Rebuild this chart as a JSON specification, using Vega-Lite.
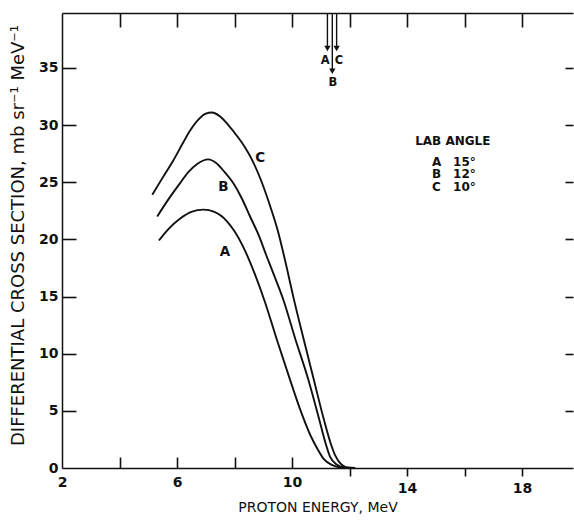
{
  "$schema": "https://vega.github.io/schema/vega-lite/v6.json",
  "autosize": "none",
  "width": 511,
  "height": 455,
  "padding": {"left": 62, "top": 13, "right": 1, "bottom": 52},
  "background": "white",
  "config": {
    "view": {"stroke": null},
    "axis": {
      "grid": false,
      "domainColor": "#111",
      "tickColor": "#111",
      "labelColor": "#111",
      "titleColor": "#111",
      "domainWidth": 1.5,
      "tickWidth": 1.6,
      "labelFont": "DejaVu Sans",
      "titleFont": "DejaVu Sans"
    }
  },
  "datasets": {
    "curves": [
      {"curve": "A", "E": 5.37, "V": 19.9}, {"curve": "A", "E": 5.7, "V": 20.9}, {"curve": "A", "E": 6.1, "V": 21.8}, {"curve": "A", "E": 6.5, "V": 22.4}, {"curve": "A", "E": 6.92, "V": 22.6}, {"curve": "A", "E": 7.3, "V": 22.4}, {"curve": "A", "E": 7.73, "V": 21.6}, {"curve": "A", "E": 8.0, "V": 20.7}, {"curve": "A", "E": 8.31, "V": 19.3}, {"curve": "A", "E": 8.7, "V": 17.0}, {"curve": "A", "E": 9.06, "V": 14.5}, {"curve": "A", "E": 9.45, "V": 11.4}, {"curve": "A", "E": 9.88, "V": 8.1}, {"curve": "A", "E": 10.3, "V": 5.0}, {"curve": "A", "E": 10.65, "V": 2.8}, {"curve": "A", "E": 10.9, "V": 1.6}, {"curve": "A", "E": 11.1, "V": 0.8}, {"curve": "A", "E": 11.4, "V": 0.25}, {"curve": "A", "E": 11.7, "V": 0.04}, {"curve": "A", "E": 12.0, "V": 0},
      {"curve": "B", "E": 5.31, "V": 22.0}, {"curve": "B", "E": 5.7, "V": 23.5}, {"curve": "B", "E": 6.1, "V": 24.9}, {"curve": "B", "E": 6.4, "V": 25.9}, {"curve": "B", "E": 6.7, "V": 26.6}, {"curve": "B", "E": 7.09, "V": 27.0}, {"curve": "B", "E": 7.35, "V": 26.7}, {"curve": "B", "E": 7.65, "V": 25.9}, {"curve": "B", "E": 7.96, "V": 24.9}, {"curve": "B", "E": 8.25, "V": 23.6}, {"curve": "B", "E": 8.54, "V": 22.0}, {"curve": "B", "E": 8.85, "V": 20.3}, {"curve": "B", "E": 9.12, "V": 18.5}, {"curve": "B", "E": 9.4, "V": 16.7}, {"curve": "B", "E": 9.7, "V": 14.7}, {"curve": "B", "E": 10.1, "V": 11.4}, {"curve": "B", "E": 10.57, "V": 7.7}, {"curve": "B", "E": 10.95, "V": 4.2}, {"curve": "B", "E": 11.15, "V": 2.3}, {"curve": "B", "E": 11.32, "V": 1.0}, {"curve": "B", "E": 11.55, "V": 0.3}, {"curve": "B", "E": 11.8, "V": 0.05}, {"curve": "B", "E": 12.1, "V": 0},
      {"curve": "C", "E": 5.14, "V": 23.9}, {"curve": "C", "E": 5.5, "V": 25.4}, {"curve": "C", "E": 5.87, "V": 26.9}, {"curve": "C", "E": 6.2, "V": 28.4}, {"curve": "C", "E": 6.45, "V": 29.5}, {"curve": "C", "E": 6.75, "V": 30.5}, {"curve": "C", "E": 7.0, "V": 31.0}, {"curve": "C", "E": 7.21, "V": 31.1}, {"curve": "C", "E": 7.5, "V": 30.75}, {"curve": "C", "E": 7.8, "V": 29.95}, {"curve": "C", "E": 8.1, "V": 29.0}, {"curve": "C", "E": 8.35, "V": 28.1}, {"curve": "C", "E": 8.6, "V": 27.0}, {"curve": "C", "E": 8.9, "V": 25.3}, {"curve": "C", "E": 9.2, "V": 23.2}, {"curve": "C", "E": 9.5, "V": 20.8}, {"curve": "C", "E": 9.8, "V": 17.7}, {"curve": "C", "E": 10.05, "V": 14.9}, {"curve": "C", "E": 10.4, "V": 11.3}, {"curve": "C", "E": 10.74, "V": 7.9}, {"curve": "C", "E": 11.1, "V": 4.3}, {"curve": "C", "E": 11.35, "V": 2.1}, {"curve": "C", "E": 11.5, "V": 1.1}, {"curve": "C", "E": 11.7, "V": 0.35}, {"curve": "C", "E": 11.9, "V": 0.05}, {"curve": "C", "E": 12.2, "V": 0}
    ],
    "arrows": [
      {"label": "A", "E": 11.23, "top": 39.8, "tip": 36.7},
      {"label": "B", "E": 11.40, "top": 39.8, "tip": 34.7},
      {"label": "C", "E": 11.55, "top": 39.8, "tip": 36.7}
    ],
    "arrowLabels": [
      {"label": "A", "E": 11.15, "V": 35.6},
      {"label": "C", "E": 11.63, "V": 35.6},
      {"label": "B", "E": 11.42, "V": 33.65}
    ],
    "curveLabels": [
      {"label": "A", "E": 7.67, "V": 18.9},
      {"label": "B", "E": 7.61, "V": 24.6},
      {"label": "C", "E": 8.89, "V": 27.1}
    ],
    "legend": [
      {"text": "LAB ANGLE", "E": 14.28, "V": 28.6},
      {"text": "A", "E": 14.87, "V": 26.8},
      {"text": "15°", "E": 15.6, "V": 26.8},
      {"text": "B", "E": 14.87, "V": 25.7},
      {"text": "12°", "E": 15.6, "V": 25.7},
      {"text": "C", "E": 14.87, "V": 24.6},
      {"text": "10°", "E": 15.6, "V": 24.6}
    ]
  },
  "layer": [
    {
      "data": {"name": "curves"},
      "mark": {"type": "line", "interpolate": "monotone", "color": "#111", "strokeWidth": 1.9},
      "encoding": {
        "x": {
          "field": "E", "type": "quantitative",
          "scale": {"domain": [2, 19.77], "nice": false, "zero": false},
          "axis": {
            "orient": "bottom",
            "values": [2, 4, 6, 8, 10, 12, 14, 16, 18],
            "labelExpr": "(datum.value == 2 || datum.value == 6 || datum.value == 10 || datum.value == 14 || datum.value == 18) ? datum.label : ''",
            "tickSize": {"condition": {"test": "datum.value >= 12", "value": 8}, "value": -11},
            "tickOpacity": {"condition": {"test": "datum.value <= 2", "value": 0}, "value": 1},
            "labelPadding": {"condition": {"test": "datum.value >= 12", "value": 5}, "value": 18},
            "labelFontSize": 14,
            "labelFontWeight": "bold",
            "labelFlush": false,
            "title": "PROTON ENERGY, MeV",
            "titleFontSize": 14,
            "titleFontWeight": "normal",
            "titlePadding": 5
          }
        },
        "y": {
          "field": "V", "type": "quantitative",
          "scale": {"domain": [0, 39.8], "nice": false},
          "axis": {
            "orient": "left",
            "values": [0, 5, 10, 15, 20, 25, 30, 35],
            "tickSize": -14,
            "tickOpacity": {"condition": {"test": "datum.value == 0", "value": 0}, "value": 1},
            "labelPadding": 18,
            "labelFontSize": 14,
            "labelFontWeight": "bold",
            "labelFlush": false,
            "title": "DIFFERENTIAL CROSS SECTION, mb sr⁻¹ MeV⁻¹",
            "titleFontSize": 18,
            "titleFontWeight": "normal",
            "titleX": -44,
            "titleY": 222,
            "titleAlign": "center",
            "titleBaseline": "middle",
            "titleAngle": -90
          }
        },
        "detail": {"field": "curve"}
      }
    },
    {
      "data": {"name": "arrows"},
      "mark": {"type": "rule", "color": "#111", "strokeWidth": 1.4},
      "encoding": {
        "x": {
          "field": "E", "type": "quantitative",
          "scale": {"domain": [2, 19.77], "nice": false, "zero": false},
          "axis": {
            "orient": "top",
            "values": [4, 6, 8, 10, 12, 14, 16, 18],
            "tickSize": -14,
            "labels": false,
            "title": null
          }
        },
        "y": {
          "field": "top", "type": "quantitative",
          "scale": {"domain": [0, 39.8], "nice": false},
          "axis": {
            "orient": "right",
            "values": [5, 10, 15, 20, 25, 30, 35],
            "tickSize": -8,
            "labels": false,
            "domain": false,
            "title": null
          }
        },
        "y2": {"field": "tip"}
      }
    },
    {
      "data": {"name": "arrows"},
      "mark": {"type": "point", "shape": "triangle-down", "filled": true, "color": "#111", "size": 40, "opacity": 1},
      "encoding": {
        "x": {"field": "E", "type": "quantitative", "axis": null},
        "y": {"field": "tip", "type": "quantitative", "axis": null}
      }
    },
    {
      "data": {"name": "arrowLabels"},
      "mark": {"type": "text", "font": "DejaVu Sans", "fontWeight": "bold", "fontSize": 11.5, "color": "#111", "baseline": "middle", "align": "center"},
      "encoding": {
        "x": {"field": "E", "type": "quantitative", "axis": null},
        "y": {"field": "V", "type": "quantitative", "axis": null},
        "text": {"field": "label"}
      }
    },
    {
      "data": {"name": "curveLabels"},
      "mark": {"type": "text", "font": "DejaVu Sans", "fontWeight": "bold", "fontSize": 13.5, "color": "#111", "baseline": "middle", "align": "center"},
      "encoding": {
        "x": {"field": "E", "type": "quantitative", "axis": null},
        "y": {"field": "V", "type": "quantitative", "axis": null},
        "text": {"field": "label"}
      }
    },
    {
      "data": {"name": "legend"},
      "mark": {"type": "text", "font": "DejaVu Sans", "fontWeight": "bold", "fontSize": 12, "color": "#111", "baseline": "middle", "align": "left"},
      "encoding": {
        "x": {"field": "E", "type": "quantitative", "axis": null},
        "y": {"field": "V", "type": "quantitative", "axis": null},
        "text": {"field": "text"}
      }
    }
  ],
  "resolve": {"axis": {"x": "independent", "y": "independent"}}
}
